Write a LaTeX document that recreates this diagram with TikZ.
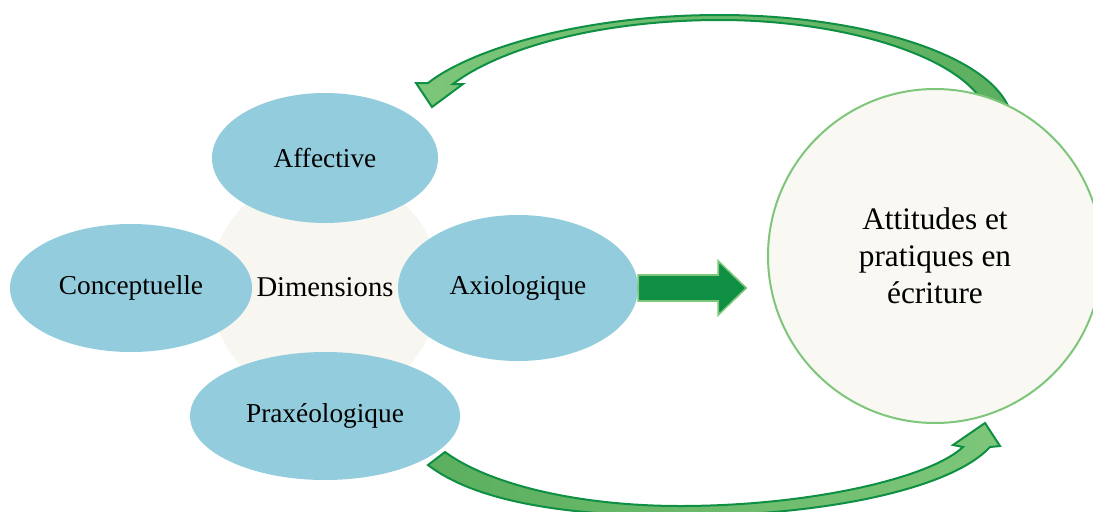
\documentclass[tikz,border=0pt]{standalone}
\usepackage{fontspec}
\setmainfont{Liberation Serif}
\usetikzlibrary{shapes.geometric}
\definecolor{petalblue}{HTML}{93CDDD}
\definecolor{corebeige}{HTML}{F8F6F0}
\definecolor{ringfill}{HTML}{F9F8F3}
\definecolor{ringline}{HTML}{7DC67A}
\definecolor{arrowlight}{HTML}{7DC67A}
\definecolor{arrowmid}{HTML}{5BAF5E}
\definecolor{arrowdark}{HTML}{0E8F43}
\begin{document}
\begin{tikzpicture}[x=0.75pt,y=-0.75pt,
 petal/.style={ellipse,fill=petalblue,inner sep=0pt,font=\fontsize{20.5}{24}\selectfont},
 bend arrow/.style={draw=arrowdark,line width=1.5pt,line join=miter}]

\clip (0,0) rectangle (1093,511);

%core
\node[circle,fill=corebeige,inner sep=0pt,minimum size=172.5pt,font=\fontsize{21.5}{24}\selectfont] (core) at (325,287) {Dimensions};

%back to the dimensions
\shadedraw[bend arrow,left color=arrowlight,right color=arrowmid]
 (1012,118) .. controls (1000,55) and (860,15) .. (720,15)
 .. controls (580,15) and (470,50) .. (428,83) -- (416,83) -- (432,107) -- (463,84) -- (453,84)
 .. controls (500,48) and (600,20) .. (720,20)
 .. controls (840,20) and (962,55) .. (986,108) -- cycle;

%towards the attitudes
\shadedraw[bend arrow,left color=arrowmid,right color=arrowlight]
 (428,465) .. controls (480,505) and (580,516) .. (680,516)
 .. controls (820,516) and (950,490) .. (990,447) -- (1000,446) -- (985,423) -- (953,445) -- (963,447)
 .. controls (930,478) and (810,506) .. (680,506)
 .. controls (580,506) and (490,485) .. (445,452) -- cycle;

%petals
\node[petal,minimum width=169.5pt,minimum height=97.5pt] (aff) at (325,158) {Affective};
\node[petal,minimum width=181.5pt,minimum height=96pt] (con) at (131,288) {Conceptuelle};
\node[petal,minimum width=180pt,minimum height=109.5pt] (axi) at (518,288) {Axiologique};
\node[petal,minimum width=202.5pt,minimum height=96pt] (pra) at (325,416) {Praxéologique};

%ring
\node[circle,fill=ringfill,draw=ringline,line width=1.5pt,inner sep=0pt,minimum size=250.5pt,
 align=center,font=\fontsize{23.5}{27.75}\selectfont] (ring) at (935,256) {Attitudes et\\pratiques en\\écriture};

\draw[fill=arrowdark,draw=arrowlight,line width=1.2pt]
 (axi.east) ++(0,-13) -- ++(80,0) -- ++(0,-14) -- ++(28,27) -- ++(-28,27) -- ++(0,-14) -- ++(-80,0) -- cycle;

\end{tikzpicture}
\end{document}
